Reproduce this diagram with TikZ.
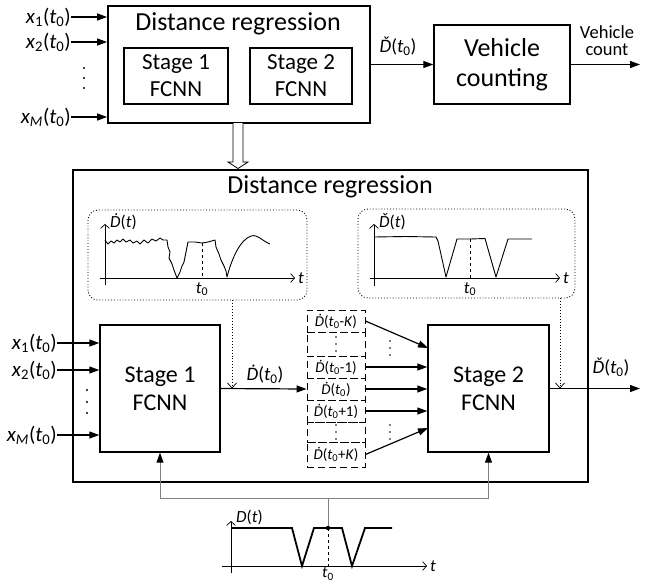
\documentclass[tikz,border=0pt]{standalone}
\usepackage{fontspec}
\setmainfont{Carlito}
\usetikzlibrary{arrows.meta}
\newcommand{\tz}{\textit{t}\textsubscript{0}}
\newcommand{\xin}[1]{\textit{x}\textsubscript{#1}(\tz)}
\newcommand{\Dd}{{\itshape\iffontchar\font"1E0A \symbol{"1E0A}\else\accent"02D9 D\fi}}
\newcommand{\Dc}{\textit{\v{D}}}
\newcommand{\bigf}{\fontsize{26}{30}\selectfont}
\newcommand{\stf}{\fontsize{23}{27}\selectfont}
\newcommand{\stbf}{\fontsize{24}{28}\selectfont}
\newcommand{\midf}{\fontsize{21}{22}\selectfont}
\newcommand{\lblf}{\fontsize{19}{22}\selectfont}
\newcommand{\plf}{\fontsize{17}{19}\selectfont}
\newcommand{\smf}{\fontsize{15}{16}\selectfont}
\begin{document}
\begin{tikzpicture}[x=1pt,y=-1pt,
  outerbox/.style={draw, line width=1.8pt, inner sep=0pt},
  stagebox/.style={draw, line width=1.4pt, inner sep=0pt, align=center, font=\stf},
  arr/.style={line width=1.2pt, -{Triangle[length=10pt,width=7pt]}},
  lbl/.style={font=\midf, inner sep=0pt},
  pl/.style={font=\plf, inner sep=0pt},
  dotbox/.style={draw, dotted, line width=0.9pt, rounded corners=10pt, inner sep=0pt},
  winbox/.style={draw, dash pattern=on 7pt off 4pt, line width=0.9pt, inner sep=0pt, minimum width=58pt, font=\smf},
  axis/.style={line width=0.7pt, -{Straight Barb[length=4pt,width=9pt,line width=0.7pt]}},
  dotarr/.style={dotted, line width=0.9pt, -{Straight Barb[length=5pt,width=9pt,line width=0.7pt]}},
  feed/.style={draw=gray, line width=1pt},
  feedarr/.style={feed, -{Triangle[length=10pt,width=7pt,color=black]}},
  curve/.style={line width=0.9pt, line join=round},
  vdot/.style={fill, radius=1.2pt}
]
\useasboundingbox (0,0) rectangle (662,582);

% ---------- top overview ----------
\node[outerbox, minimum width=262pt, minimum height=117pt] (topbox) at (239,64.5) {};
\node[font=\bigf, inner sep=0pt] (toptitle) at (238,24) {Distance regression};
\node[stagebox, minimum width=104pt, minimum height=56pt] (ts1) at (176,76) {Stage 1\\FCNN};
\node[stagebox, minimum width=102pt, minimum height=56pt] (ts2) at (301,76) {Stage 2\\FCNN};

\node[lbl, anchor=east] (ti1) at (71,17) {\xin{1}};
\node[lbl, anchor=east] (ti2) at (71,42) {\xin{2}};
\node[lbl, anchor=east] (tiM) at (71,117) {\xin{\textit{M}}};
\draw[arr] (ti1.east) -- (ti1.east -| topbox.west);
\draw[arr] (ti2.east) -- (ti2.east -| topbox.west);
\draw[arr] (tiM.east) -- (tiM.east -| topbox.west);
\fill[vdot] (84,68) circle; \fill[vdot] (84,78) circle; \fill[vdot] (84,88) circle;

\node[stagebox, minimum width=136pt, minimum height=79pt, font=\fontsize{26}{30}\selectfont] (vc) at (502,64.5) {Vehicle\\counting};
\draw[arr] (topbox.east) -- (vc.west);
\node[lbl, font=\lblf] (tdl) at (398,46) {\Dc(\tz)};
\coordinate (vcout) at (640,64.5);
\draw[arr] (vc.east) -- (vcout);
\node[inner sep=0pt, align=center, font=\fontsize{18.5}{17}\selectfont] (vcl) at (607,41) {Vehicle\\count};

% hollow arrow
\draw[line width=0.8pt, fill=white] (233,123) -- (233,162) -- (228,162) -- (238,168.5) -- (248,162) -- (243,162) -- (243,123);

% ---------- detailed view ----------
\node[outerbox, minimum width=515pt, minimum height=312pt] (big) at (330.5,326) {};
\node[font=\bigf, inner sep=0pt] (bigtitle) at (330,187) {Distance regression};

% left plot
\node[dotbox, minimum width=219pt, minimum height=90pt] (lp) at (197.5,255) {};
\draw[axis] (105,285) -- (105,224);
\draw[axis] (100,278) -- (295,278);
\node[pl, anchor=west] (lpy) at (110,222) {\Dd(\textit{t})};
\node[pl] (lpt) at (301,278) {\textit{t}};
\node[pl] (lpt0) at (202,289) {\tz};
\draw[dashed, line width=0.7pt] (202,243) -- (202,278);
\draw[curve] (105,240) -- (108,244) -- (111,241) -- (114,243) -- (117,240) -- (120,242) -- (123,239) -- (126,242) -- (130,240) -- (133,243) -- (137,241) -- (140,244) -- (144,240) -- (148,243) -- (152,239) -- (156,241) -- (160,238) -- (163,240) -- (167,240) -- (168,247) -- (170,252) -- (169,258) -- (172,264) -- (174,270) -- (177,278) -- (180,272) -- (182,266) -- (184,262) -- (186,252) -- (188,242) -- (195,242) -- (202,243) -- (208,242) -- (215,240) -- (216,247) -- (219,254) -- (221,260) -- (224,266) -- (226,271) -- (227,277) .. controls (232,258) and (240,240) .. (251,236) .. controls (258,234) and (262,241) .. (270,244);

% right plot
\node[dotbox, minimum width=217pt, minimum height=89pt] (rp) at (466.5,253.5) {};
\draw[axis] (374,286) -- (374,224);
\draw[axis] (370,278) -- (560,278);
\node[pl, anchor=west] (rpy) at (379,222) {\Dc(\textit{t})};
\node[pl] (rpt) at (566,278) {\textit{t}};
\node[pl] (rpt0) at (470,289) {\tz};
\draw[dashed, line width=0.7pt] (470,239) -- (470,278);
\draw[curve] (374,237) -- (405,236.5) -- (436,237) -- (438,241) -- (446,277) -- (457,239) -- (470,239) -- (485,238.5) -- (496,277) -- (508,239) -- (532,239);

% stage boxes
\node[stagebox, font=\stbf, minimum width=120pt, minimum height=127pt] (s1) at (160,388.5) {Stage 1\\FCNN};
\node[stagebox, font=\stbf, minimum width=121pt, minimum height=127pt] (s2) at (488.5,388.5) {Stage 2\\FCNN};

% inputs
\node[lbl, anchor=east] (bi1) at (57,343) {\xin{1}};
\node[lbl, anchor=east] (bi2) at (57,370) {\xin{2}};
\node[lbl, anchor=east] (biM) at (57,435) {\xin{\textit{M}}};
\draw[arr] (bi1.east) -- (bi1.east -| s1.west);
\draw[arr] (bi2.east) -- (bi2.east -| s1.west);
\draw[arr] (biM.east) -- (biM.east -| s1.west);
\fill[vdot] (87,390) circle; \fill[vdot] (87,402) circle; \fill[vdot] (87,413) circle;

% window
\node[winbox, minimum height=22pt] (w1) at (336,321) {\Dd(\tz-\textit{K})};
\node[winbox, minimum height=24pt] (w2) at (336,344) {};
\node[winbox, minimum height=22pt] (w3) at (336,367) {\Dd(\tz-1)};
\node[winbox, minimum height=22pt] (w4) at (336,389) {\Dd(\tz)};
\node[winbox, minimum height=22pt] (w5) at (336,411) {\Dd(\tz+1)};
\node[winbox, minimum height=20pt] (w6) at (336,432) {};
\node[winbox, minimum height=25pt] (w7) at (336,454.5) {\Dd(\tz+\textit{K})};
\fill[vdot, radius=0.9pt] (336,337) circle; \fill[vdot, radius=0.9pt] (336,344) circle; \fill[vdot, radius=0.9pt] (336,351) circle;
\fill[vdot, radius=0.9pt] (336,425) circle; \fill[vdot, radius=0.9pt] (336,432) circle; \fill[vdot, radius=0.9pt] (336,439) circle;

% stage 1 output
\coordinate (s1tap) at (232,388.5);
\draw[arr] (s1.east) -- (w4.west);
\node[lbl, font=\lblf] (s1ol) at (265,374) {\Dd(\tz)};
\draw[dotarr] (lp.south -| s1tap) -- (s1tap);

% window to stage 2
\coordinate (s2a1) at (428,348);
\coordinate (s2a7) at (428,428);
\draw[arr] (w1.east) -- (s2a1);
\draw[arr] (w3.east) -- (w3.east -| s2.west);
\draw[arr] (w4.east) -- (w4.east -| s2.west);
\draw[arr] (w5.east) -- (w5.east -| s2.west);
\draw[arr] (w7.east) -- (s2a7);
\fill[vdot, radius=0.9pt] (390,341) circle; \fill[vdot, radius=0.9pt] (390,348) circle; \fill[vdot, radius=0.9pt] (390,355) circle;
\fill[vdot, radius=0.9pt] (390,425) circle; \fill[vdot, radius=0.9pt] (390,432) circle; \fill[vdot, radius=0.9pt] (390,439) circle;

% stage 2 output
\coordinate (s2tap) at (560,388.5);
\coordinate (s2out) at (640,388.5);
\draw[arr] (s2.east) -- (s2out);
\node[lbl, font=\lblf] (s2ol) at (611,367) {\Dc(\tz)};
\draw[dotarr] (rp.south -| s2tap) -- (s2tap);

% ---------- bottom plot ----------
\coordinate (dot) at (328,528);
\coordinate (junc) at (328,498);
\draw[feed] (dot) -- (junc);
\draw[feedarr] (junc) -| (s1.south);
\draw[feedarr] (junc) -| (s2.south);
\draw[axis] (231,573) -- (231,521);
\draw[axis] (222,566) -- (427,566);
\node[pl, anchor=west] (bpy) at (236,517) {\textit{D}(\textit{t})};
\node[pl] (bpt) at (433,566) {\textit{t}};
\node[pl, font=\fontsize{16}{18}\selectfont] (bpt0) at (328,574) {\tz};
\draw[dashed, line width=0.7pt] (dot) -- (328,566);
\draw[line width=1.8pt, line join=miter] (231,528) -- (292,528) -- (302,566) -- (314,528) -- (342,528) -- (352,566) -- (365,528) -- (392,528);
\fill (dot) circle[radius=2.2pt];
\end{tikzpicture}
\end{document}
